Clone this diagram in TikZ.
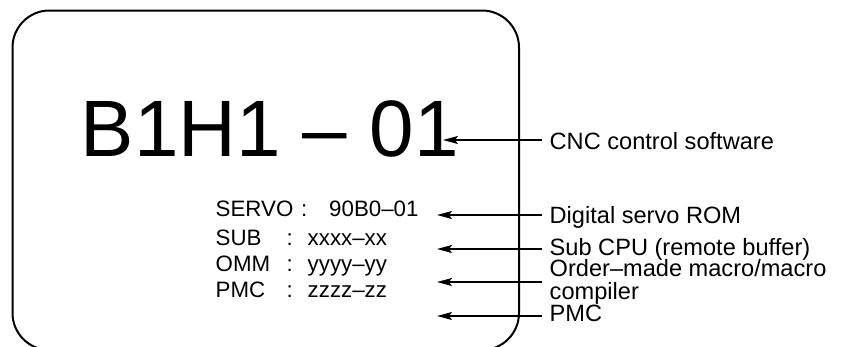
\documentclass[tikz,border=0pt]{standalone}
\usepackage{fontspec}
\setmainfont{Liberation Sans}
\usetikzlibrary{arrows.meta}
\begin{document}
\begin{tikzpicture}[x=1pt,y=-1pt,
  txt/.style={inner sep=0pt,anchor=base west},
  big/.style={txt,font=\fontsize{80}{96}\selectfont},
  lbl/.style={txt,font=\fontsize{23.6}{27}\selectfont},
  val/.style={txt,font=\fontsize{22.3}{26}\selectfont},
  ptr/.style={line width=1.3pt,-{Stealth[length=15pt,width=8pt,inset=3pt]}},
  frame/.style={line width=2pt,rounded corners=37pt}]
\useasboundingbox (0,0) rectangle (841,346);
\begin{scope}
\clip (0,0) rectangle (841,346);
\draw[frame] (12.5,10.5) rectangle (519,350);
\end{scope}
% big code
\node[big] (code) at (80.5,156) {B1H1 – 01};
% left block
\node[val] (k1) at (215.5,216.7) {SERVO};
\node[val] (c1) at (301,216.7) {:};
\node[val] (v1) at (329,216.7) {90B0–01};
\node[val] (k2) at (215.5,245) {SUB};
\node[val] (c2) at (286.5,245) {:};
\node[val] (v2) at (307.5,245) {xxxx–xx};
\node[val] (k3) at (215.5,271.7) {OMM};
\node[val] (c3) at (286.5,271.7) {:};
\node[val] (v3) at (307.5,271.7) {yyyy–yy};
\node[val] (k4) at (215.5,297.7) {PMC};
\node[val] (c4) at (286.5,297.7) {:};
\node[val] (v4) at (307.5,297.7) {zzzz–zz};
% right labels
\node[lbl] (l1) at (549.5,149) {CNC control software};
\node[lbl] (l2) at (549.5,223) {Digital servo ROM};
\node[lbl] (l3) at (549.5,255) {Sub CPU (remote buffer)};
\node[lbl] (l4) at (549.5,276.7) {Order–made macro/macro};
\node[lbl] (l4b) at (549.5,299.3) {compiler};
\node[lbl] (l5) at (549.5,321.8) {PMC};
% arrow ends
\coordinate (s1) at (542,140);   \coordinate (e1) at (443,140);
\coordinate (s2) at (542,215);   \coordinate (e2) at (437,215);
\coordinate (s3) at (542,249);   \coordinate (e3) at (437,249);
\coordinate (s4) at (542,282);   \coordinate (e4) at (437,282);
\coordinate (s5) at (542,316);   \coordinate (e5) at (437,316);
\draw[ptr] (s1) -- (e1);
\draw[ptr] (s2) -- (e2);
\draw[ptr] (s3) -- (e3);
\draw[ptr] (s4) -- (e4);
\draw[ptr] (s5) -- (e5);
\end{tikzpicture}
\end{document}
